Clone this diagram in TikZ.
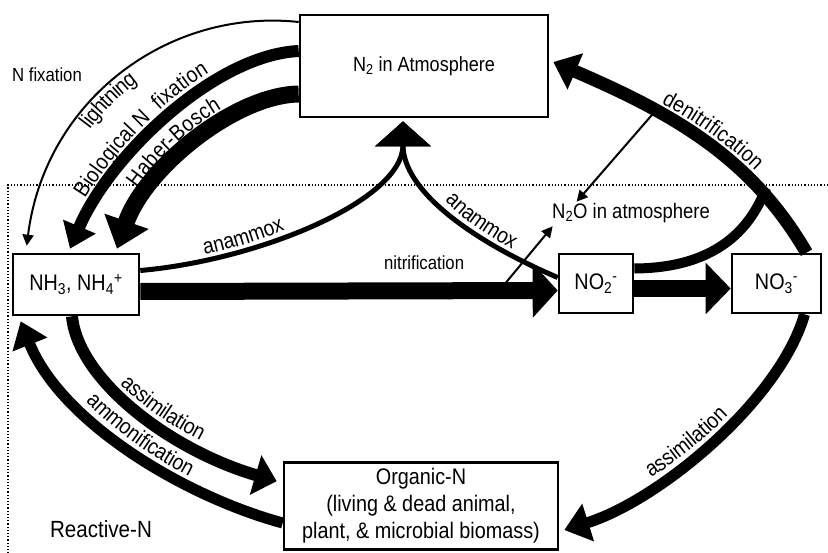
\documentclass[tikz,border=0pt]{standalone}
\usepackage{fontspec}
\setmainfont{Liberation Sans}[FakeStretch=0.88]
\usetikzlibrary{arrows.meta,decorations.text}
\newcommand\flowfont{\fontsize{22}{26}\selectfont}

\begin{document}
\begin{tikzpicture}[
  x=1pt,y=-1pt,
  font=\fontsize{22}{26}\selectfont,
  pool/.style={draw,line width=2.6pt,fill=white,align=center,inner sep=1pt,
    font=\fontsize{22.5}{27}\selectfont},
  along/.style n args={5}{postaction={decorate,decoration={text along path,
    reverse path=#1,raise=#2,text align={center,left indent=#3,right indent=#4},
    text={|\flowfont|#5}}}},
  fine/.style={line width=2pt,-{Triangle[length=11pt,width=11pt]}},
  flux/.style n args={3}{line width=#1,-{Triangle[length=#2,width=#3]}}
]
  \useasboundingbox (0,0) rectangle (828,553);
  \draw[dotted,line width=1.2pt] (828,185) -- (8,185) -- (8,553);

  \node[pool,minimum width=248pt,minimum height=102pt,font=\fontsize{20.5}{24}\selectfont] (atm) at (424,66) {N\textsubscript{2} in Atmosphere};
  \node[pool,minimum width=126pt,minimum height=61pt] (nh) at (76,284.5) {NH\textsubscript{3}, NH\textsubscript{4}\textsuperscript{+}};
  \node[pool,minimum width=74pt,minimum height=59pt] (no2) at (596,283.5) {NO\textsubscript{2}\textsuperscript{-}};
  \node[pool,minimum width=89pt,minimum height=59pt] (no3) at (776.5,283.5) {NO\textsubscript{3}\textsuperscript{-}};
  \node[font=\fontsize{19}{22}\selectfont] (nfix) at (47,75) {N fixation};
  \node[font=\fontsize{23.4}{27}\selectfont] (reactive) at (101,529) {Reactive-N};
  \node[font=\fontsize{21}{25}\selectfont] (n2o) at (631,213) {N\textsubscript{2}O in atmosphere};
  \coordinate (merge) at (766,188);

  \draw[fine,along={true}{-17pt}{0pt}{45pt}{lightning}]
    ([yshift=44pt]atm.west) .. controls (168,8) and (45,100) .. ([xshift=15pt,yshift=7pt]nh.north west);
  \draw[flux={12pt}{24pt}{34pt},along={true}{10pt}{0pt}{40pt}{Biological N~ fixation}]
    ([yshift=15pt]atm.west) .. controls (215,55) and (110,155) .. ([xshift=-6pt,yshift=4pt]nh.north);
  \draw[flux={17pt}{29pt}{45pt},along={true}{10.5pt}{0pt}{15pt}{Haber-Bosch}]
    ([yshift=-28pt]atm.west) .. controls (235,95) and (145,168) .. ([xshift=41pt,yshift=4pt]nh.north);

  \draw[flux={5pt}{25pt}{55pt},along={false}{5.5pt}{0pt}{105pt}{anammox}]
    ([yshift=14pt]nh.east) .. controls (260,260) and (403,200) .. ([xshift=-21pt,yshift=-3pt]atm.south);
  \draw[flux={5pt}{25pt}{55pt},along={true}{5.5pt}{41pt}{0pt}{anammox}]
    ([yshift=6pt]no2.west) .. controls (470,240) and (403,190) .. ([xshift=-21pt,yshift=-3pt]atm.south);

  \draw[flux={17pt}{25pt}{53pt}] ([yshift=-7pt]nh.east) -- ([yshift=-7pt]no2.west)
    coordinate[pos=0.86] (nitpt) node[pos=0.68,above=9pt,font=\fontsize{19}{22}\selectfont] {nitrification};
  \draw[fine] (nitpt) -- ([xshift=4pt]n2o.south west);
  \draw[flux={17pt}{25pt}{50pt}] ([yshift=-5pt]no2.east) -- ([yshift=-5pt]no3.west);

  \draw[flux={13pt}{24pt}{38pt},along={true}{9.5pt}{20pt}{0pt}{denitrification}]
    ([xshift=30pt]no3.north) .. controls (751,157) and (672,113) .. ([xshift=4pt,yshift=4pt]atm.east)
    coordinate[pos=0.68] (denitpt);
  \draw[line width=10pt] ([yshift=15pt]no2.east) .. controls (720,268) and (752,225) .. (merge);
  \draw[fine] (denitpt) -- ([xshift=28pt,yshift=-2pt]n2o.north west);

  \node[pool,minimum width=274pt,minimum height=87pt] (org) at (421,506) {Organic-N\\(living \& dead animal,\\plant, \& microbial biomass)};

  \draw[flux={12pt}{22pt}{40pt},along={false}{9pt}{0pt}{0pt}{assimilation}]
    ([xshift=-4pt]nh.south) .. controls (78,380) and (170,450) .. ([xshift=-6pt,yshift=-20pt]org.north west);
  \draw[flux={11pt}{25pt}{36pt},along={true}{8.5pt}{0pt}{0pt}{ammonification}]
    ([yshift=-17pt]org.west) .. controls (180,495) and (60,420) .. ([xshift=9pt,yshift=-5pt]nh.south west);
  \draw[flux={11pt}{25pt}{38pt},along={true}{8.5pt}{0pt}{27pt}{assimilation}]
    ([xshift=28pt]no3.south) .. controls (780,400) and (660,500) .. ([xshift=5pt,yshift=-24pt]org.east);
\end{tikzpicture}
\end{document}
